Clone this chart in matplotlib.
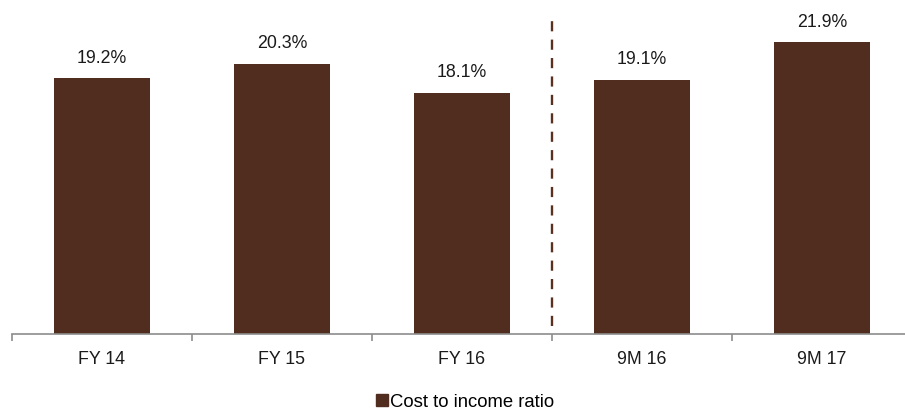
import matplotlib
matplotlib.use("Agg")
import matplotlib.pyplot as plt
from matplotlib.patches import Patch

plt.rcParams['font.family'] = ['Liberation Sans', 'DejaVu Sans']

categories = ["FY 14", "FY 15", "FY 16", "9M 16", "9M 17"]
cost_to_income = [19.2, 20.3, 18.1, 19.1, 21.9]
series_name = "Cost to income ratio"

bar_color = "#512D20"
W, H = 905, 411
fig = plt.figure(figsize=(W / 100, H / 100), dpi=100)
# axes spans x from 12px to 912px, y from 334px (baseline) to 1px
ax = fig.add_axes([12 / W, (H - 334) / H, 900 / W, 333 / H])

x = list(range(len(categories)))
ax.bar(x, cost_to_income, width=0.53, color=bar_color, zorder=2)
for xi, v in zip(x, cost_to_income):
    ax.text(xi, v + 1.5, f"{v:.1f}%", ha="center", va="center", fontsize=12.8, color="#1a1a1a")

ax.set_xlim(-0.5, 4.5)
ax.set_ylim(0, 25)
ax.set_yticks([])
for s in ["top", "right", "left"]:
    ax.spines[s].set_visible(False)
ax.spines["bottom"].set_color("#8c8c8c")
ax.spines["bottom"].set_linewidth(1.2)

# category labels centred, tick marks on the boundaries
ax.set_xticks([i - 0.5 for i in range(len(categories) + 1)])
ax.set_xticklabels([])
ax.tick_params(axis="x", direction="out", length=5, width=1.2, color="#8c8c8c")
ax.set_xticks(x, minor=True)
ax.set_xticklabels(categories, minor=True, fontsize=12.8, color="#1a1a1a")
ax.tick_params(axis="x", which="minor", length=0, pad=12)

# separator between full-year and nine-month figures
ax.plot([2.5, 2.5], [0.6, 24.1], linestyle=(0, (4.3, 3.5)), color="#5a3020", linewidth=1.7, zorder=3)

fig.legend(handles=[Patch(color=bar_color)], labels=[series_name], loc="center",
           bbox_to_anchor=(465 / W, (H - 402) / H), frameon=False, fontsize=13.3,
           handlelength=0.65, handleheight=0.65, handletextpad=0.15)

fig.savefig("out.png", dpi=100)
